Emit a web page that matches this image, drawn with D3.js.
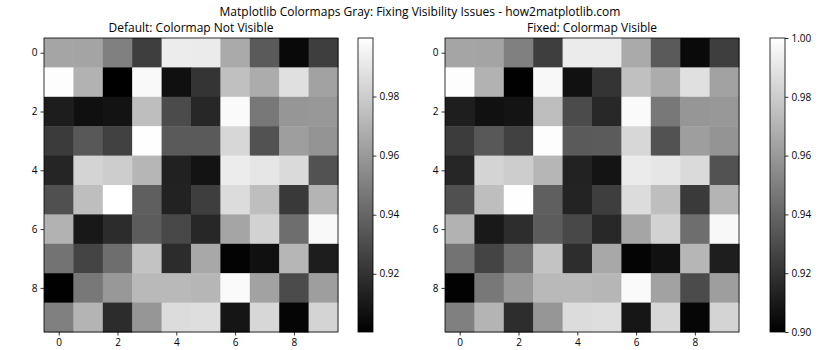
<!DOCTYPE html>
<html><head><meta charset="utf-8">
<script src="https://cdn.jsdelivr.net/npm/d3@7"></script>
<style>body{margin:0;background:#fff}svg{display:block}text{font-family:"Open Sans",sans-serif;fill:#000}</style>
</head><body><svg id="c" width="840" height="350"></svg>
<script>
const rows = d3.range(10);
const cols = d3.range(10);
const values = [
[0.9647,0.9643,0.9502,0.9243,0.9922,0.9920,0.9667,0.9353,0.9039,0.9243],
[0.9992,0.9698,0.9003,0.9973,0.9067,0.9204,0.9753,0.9675,0.9878,0.9635],
[0.9118,0.9067,0.9078,0.9745,0.9294,0.9157,0.9980,0.9471,0.9588,0.9596],
[0.9235,0.9345,0.9255,0.9993,0.9353,0.9355,0.9843,0.9322,0.9620,0.9580],
[0.9149,0.9831,0.9804,0.9714,0.9133,0.9078,0.9922,0.9902,0.9855,0.9322],
[0.9314,0.9745,0.9998,0.9373,0.9137,0.9243,0.9863,0.9745,0.9227,0.9706],
[0.9698,0.9098,0.9176,0.9361,0.9282,0.9157,0.9647,0.9824,0.9431,0.9973],
[0.9451,0.9267,0.9431,0.9765,0.9176,0.9659,0.9016,0.9067,0.9714,0.9118],
[0.9008,0.9471,0.9596,0.9725,0.9725,0.9714,0.9980,0.9635,0.9294,0.9620],
[0.9502,0.9706,0.9176,0.9588,0.9863,0.9871,0.9086,0.9843,0.9024,0.9831]
];
const axisTicks = [0,2,4,6,8];
const titles = ["Default: Colormap Not Visible","Fixed: Colormap Visible"];
const suptitle = "Matplotlib Colormaps Gray: Fixing Visibility Issues - how2matplotlib.com";
const leftRange = d3.extent(values.flat());
const rightRange = [0.90, 1.00];
const cbTicksLeft = [0.92,0.94,0.96,0.98];
const cbTicksRight = [0.90,0.92,0.94,0.96,0.98,1.00];

const svg = d3.select("#c");
const gray = t => { const g = Math.round(Math.max(0,Math.min(1,t))*255); return `rgb(${g},${g},${g})`; };

svg.append("text").attr("x",420).attr("y",16).attr("text-anchor","middle").style("font-size","12px").text(suptitle);

const panels = [
  {x:44, y:38, s:294, cbx:358, range:leftRange, cbTicks:cbTicksLeft, title:titles[0]},
  {x:445, y:38, s:294, cbx:770, range:rightRange, cbTicks:cbTicksRight, title:titles[1]}
];
const defs = svg.append("defs");
panels.forEach((p,i)=>{
  const g = svg.append("g").attr("transform",`translate(${p.x},${p.y})`);
  const xs = d3.scaleBand().domain(cols).range([0,p.s]);
  const ys = d3.scaleBand().domain(rows).range([0,p.s]);
  const norm = d3.scaleLinear().domain(p.range).range([0,1]);
  rows.forEach(r=>cols.forEach(c=>{
    g.append("rect").attr("x",xs(c)).attr("y",ys(r)).attr("width",xs.bandwidth()+0.5).attr("height",ys.bandwidth()+0.5)
     .attr("fill",gray(norm(values[r][c])));
  }));
  const xp = d3.scaleLinear().domain([-0.5,9.5]).range([0,p.s]);
  const xa = d3.axisBottom(xp).tickValues(axisTicks).tickFormat(d3.format("d")).tickSize(3.5).tickPadding(3);
  const ya = d3.axisLeft(xp).tickValues(axisTicks).tickFormat(d3.format("d")).tickSize(3.5).tickPadding(3);
  const gx = g.append("g").attr("transform",`translate(0,${p.s})`).call(xa);
  const gy = g.append("g").call(ya);
  [gx,gy].forEach(a=>{a.select(".domain").remove(); a.selectAll("text").style("font-size","10px").attr("font-family",null); a.selectAll("line").attr("stroke","#000").attr("stroke-width",0.8);});
  g.append("rect").attr("width",p.s).attr("height",p.s).attr("fill","none").attr("stroke","#000").attr("stroke-width",0.8);
  g.append("text").attr("x",p.s/2).attr("y",-6).attr("text-anchor","middle").style("font-size","12px").text(p.title);

  // colorbar
  const gid = "grad"+i;
  const lg = defs.append("linearGradient").attr("id",gid).attr("x1",0).attr("y1",1).attr("x2",0).attr("y2",0);
  lg.append("stop").attr("offset","0%").attr("stop-color","#000");
  lg.append("stop").attr("offset","100%").attr("stop-color","#fff");
  const cw = 15;
  const cb = svg.append("g").attr("transform",`translate(${p.cbx},${p.y})`);
  cb.append("rect").attr("width",cw).attr("height",p.s).attr("fill",`url(#${gid})`);
  const cs = d3.scaleLinear().domain(p.range).range([p.s,0]);
  const ca = d3.axisRight(cs).tickValues(p.cbTicks).tickFormat(d3.format(".2f")).tickSize(3.5).tickPadding(3);
  const gc = cb.append("g").attr("transform",`translate(${cw},0)`).call(ca);
  gc.select(".domain").remove();
  gc.selectAll("text").style("font-size","10px").attr("font-family",null);
  gc.selectAll("line").attr("stroke","#000").attr("stroke-width",0.8);
  cb.append("rect").attr("width",cw).attr("height",p.s).attr("fill","none").attr("stroke","#000").attr("stroke-width",0.8);
});
</script></body></html>
